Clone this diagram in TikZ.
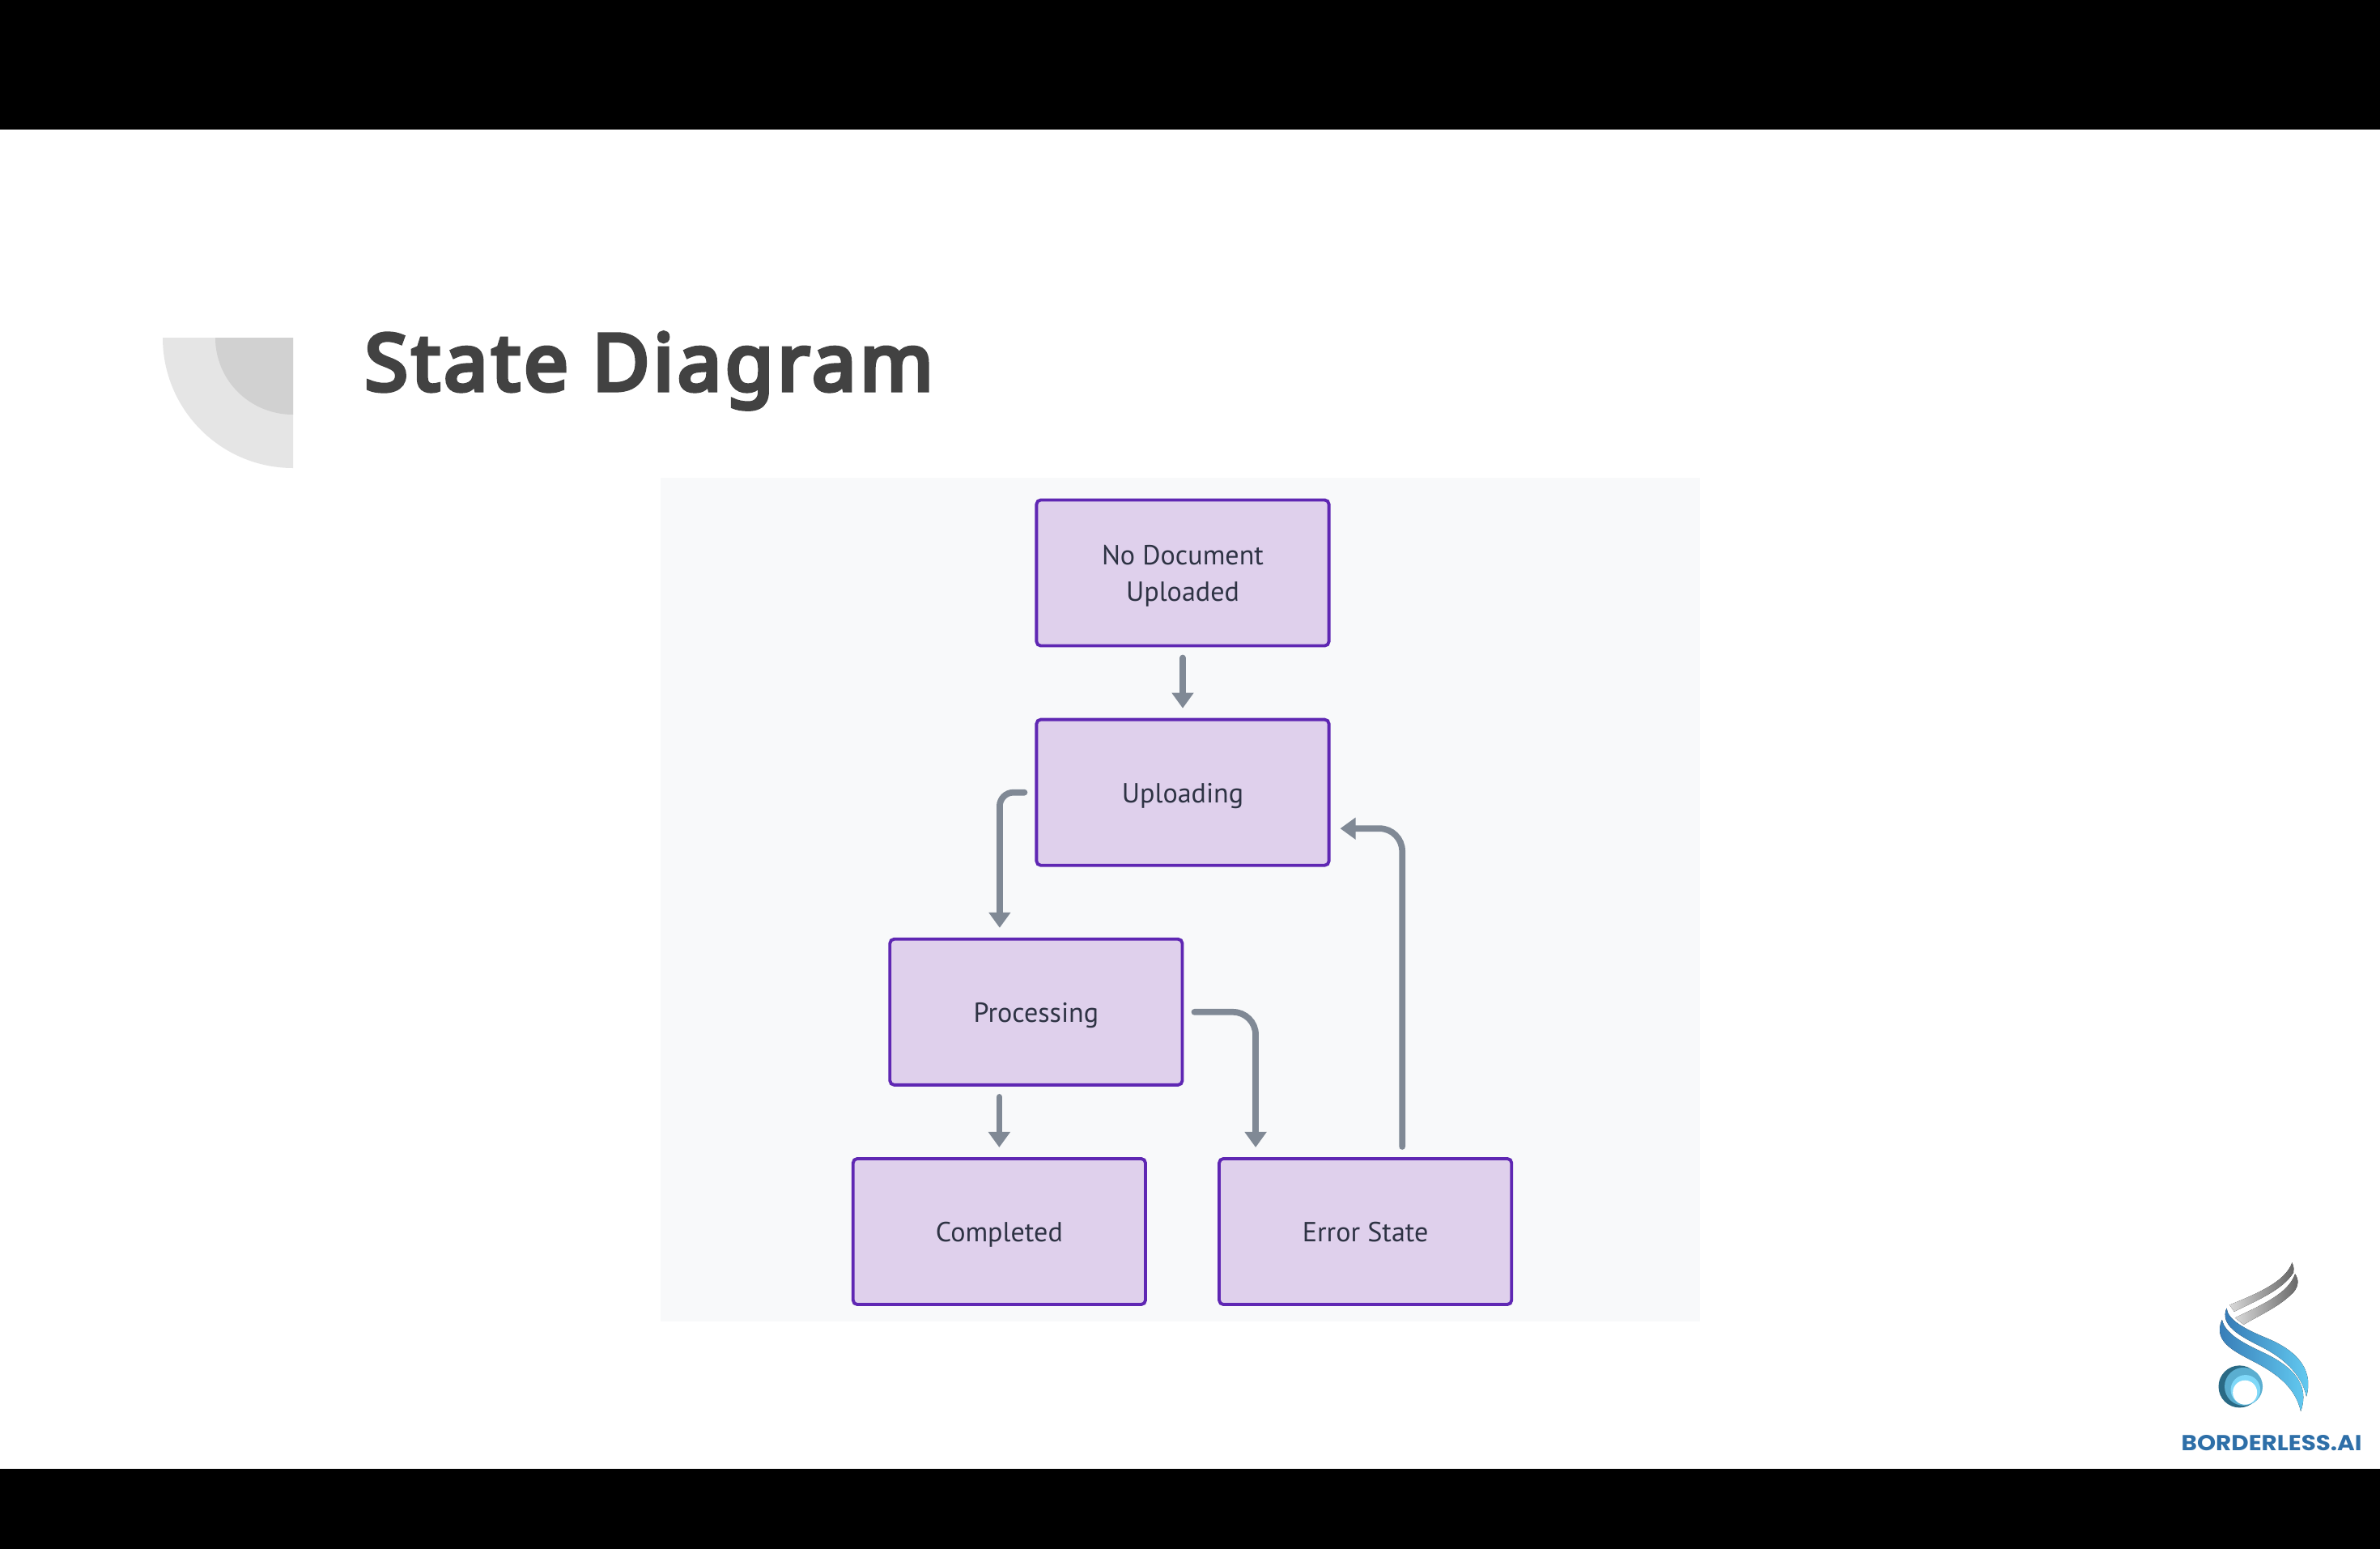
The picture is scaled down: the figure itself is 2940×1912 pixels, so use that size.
\documentclass[tikz,border=0pt]{standalone}
\usepackage{fontspec}
\setmainfont{PT Sans}
\newfontfamily\titlefont[FakeBold=5.5,LetterSpace=5]{Noto Sans}
\newfontfamily\logofont[FakeStretch=1.1]{Poppins}
\usetikzlibrary{arrows.meta}
\definecolor{statefill}{HTML}{DFD0EC}
\definecolor{stateline}{HTML}{5F27B3}
\definecolor{statetext}{HTML}{2E3344}
\definecolor{flowgray}{HTML}{808995}
\definecolor{panelgray}{HTML}{F8F9FA}
\definecolor{titlegray}{HTML}{424242}
\definecolor{logodark}{HTML}{2A6A85}
\definecolor{logomid}{HTML}{5AAED0}
\definecolor{logolight}{HTML}{7FD8F8}
\definecolor{logoblue}{HTML}{3476B2}
\definecolor{logosky}{HTML}{66D0F5}
\definecolor{logotext}{HTML}{2E6FA8}
\tikzstyle{stateblock} = [rectangle, draw=stateline, fill=statefill, line width=1.1pt, rounded corners=1.5pt,
minimum width=3.61cm, minimum height=1.80cm, text=statetext, align=center,
font=\fontsize{9.7}{12.8}\selectfont]
\tikzstyle{statesingle} = [stateblock, text height=.72em, text depth=0pt]
\tikzstyle{flow} = [draw=flowgray, line width=2.2pt, line cap=round, -{Triangle[width=.26cm,length=.19cm]},
shorten >=.12cm, shorten <=.13cm]
\tikzstyle{flowsmall} = [flow, rounded corners=.17cm]
\tikzstyle{flowbig} = [flow, rounded corners=.28cm]
\begin{document}
\begin{tikzpicture}[x=.01cm, y=-.01cm, node distance = 2.71cm]
	\useasboundingbox (0,0) rectangle (2940,1912);
	\fill [white] (0,0) rectangle (2940,1912);
	\fill [black] (-5,-5) rectangle (2945,160);
	\fill [black] (-5,1814) rectangle (2945,1917);
	\fill [panelgray] (816,590) rectangle (2100,1632);
	
	\fill [black!10] (362,417) -- (201,417) .. controls (201,506) and (273,578) .. (362,578) -- cycle;
	\fill [black!18] (362,417) -- (266,417) .. controls (266,470) and (309,512) .. (362,512) -- cycle;
	\node [anchor=base west, inner sep=0pt, text=titlegray, font=\fontsize{27.5}{32}\titlefont] (title) at (450,482) {State Diagram};
	
	\node [stateblock, text height=19.8pt, text depth=0pt] (nodocument) at (1461,707.5) {No Document\\ Uploaded};
	\node [statesingle, below of=nodocument] (uploading) {Uploading};
	\node [statesingle, below of=uploading, xshift=-1.81cm] (processing) {Processing};
	\node [statesingle, below of=processing, xshift=-.455cm] (completed) {Completed};
	\node [statesingle, right of=completed, node distance=4.52cm] (errorstate) {Error State};
	
	\coordinate (processingin) at ([xshift=-.45cm]processing.north);
	\coordinate (processingout) at ([xshift=-.455cm]processing.south);
	\coordinate (errorin) at ([xshift=-1.355cm]errorstate.north);
	\coordinate (errorout) at ([xshift=.455cm]errorstate.north);
	\coordinate (uploadingin) at ([yshift=-.445cm]uploading.east);
	
	\path [flow] (nodocument)--(uploading);
	\path [flowsmall] (uploading.west) -| (processingin);
	\path [flow] (processingout)--(completed.north);
	\path [flowbig] (processing.east) -| (errorin);
	\path [flowbig] (errorout) |- (uploadingin);
	
	\begin{scope}[shift={(2660,1530)}, x=.00333cm, y=-.00333cm]
		\fill [left color=black!15, right color=black!60] (283,245) .. controls (380,205) and (490,160) .. (515,88) .. controls (522,105) and (522,115) .. (520,125) .. controls (480,190) and (380,230) .. (300,270) -- cycle;
		\fill [left color=black!15, right color=black!60] (303,293) .. controls (400,245) and (500,205) .. (526,130) .. controls (540,150) and (540,175) .. (520,198) .. controls (470,250) and (400,280) .. (335,318) -- cycle;
		\fill [left color=logoblue, right color=logosky] (272,257) .. controls (275,300) and (340,335) .. (420,368) .. controls (510,405) and (600,470) .. (568,585) .. controls (550,500) and (480,440) .. (400,400) .. controls (320,360) and (245,320) .. (272,257) -- cycle;
		\fill [left color=logoblue, right color=logosky] (255,300) .. controls (265,350) and (330,385) .. (400,418) .. controls (480,455) and (590,520) .. (547,640) .. controls (530,560) and (470,510) .. (400,470) .. controls (320,425) and (215,390) .. (255,300) -- cycle;
		\fill [logodark] (320,548) circle [radius=.26cm];
		\fill [logomid] (335,548) circle [radius=.235cm];
		\fill [logolight] (342,560) circle [radius=.183cm];
		\fill [white] (340,570) circle [radius=.15cm];
		\node [anchor=base, inner sep=0pt, text=logotext, font=\fontsize{7.6}{8}\logofont\bfseries] (logotext) at (439,786) {BORDERLESS.AI};
	\end{scope}
\end{tikzpicture}
\end{document}
